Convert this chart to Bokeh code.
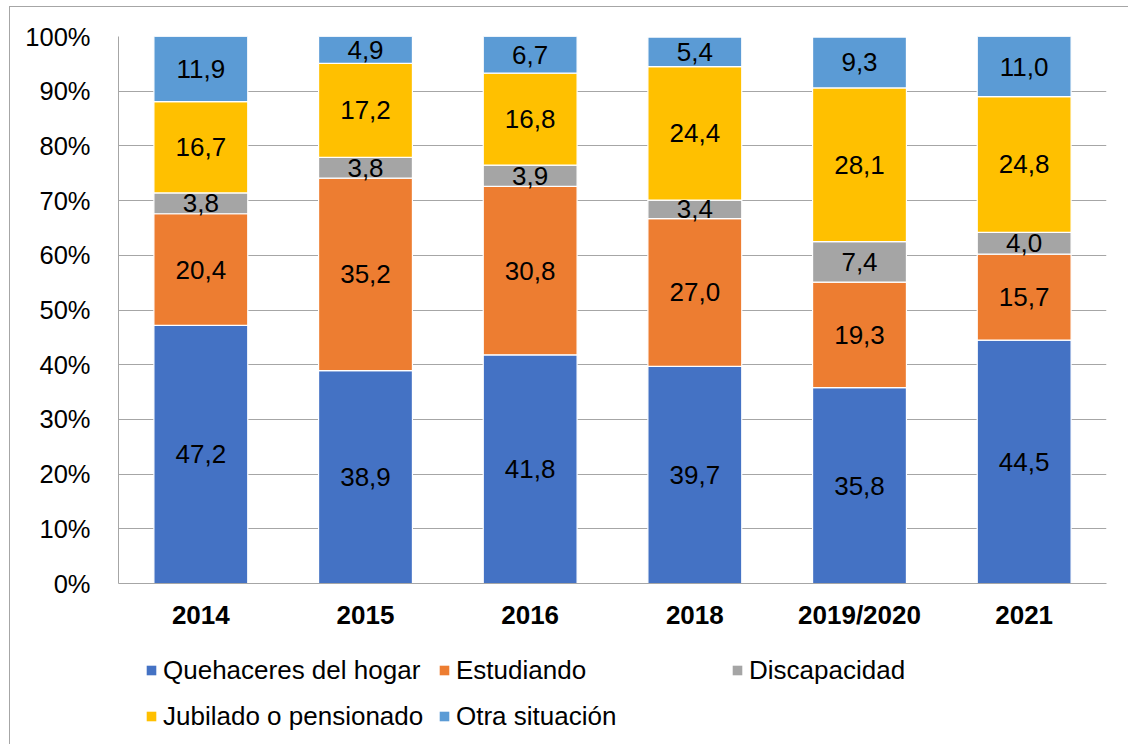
from bokeh.plotting import figure
from bokeh.layouts import column
from bokeh.models import ColumnDataSource, FactorRange, Legend, FixedTicker, Range1d
from bokeh.core.properties import value
from bokeh.embed import file_html
from bokeh.resources import INLINE

years = ["2014", "2015", "2016", "2018", "2019/2020", "2021"]
series = ["Quehaceres del hogar", "Estudiando", "Discapacidad",
          "Jubilado o pensionado", "Otra situación"]
quehaceres = [47.2, 38.9, 41.8, 39.7, 35.8, 44.5]
estudiando = [20.4, 35.2, 30.8, 27.0, 19.3, 15.7]
discapacidad = [3.8, 3.8, 3.9, 3.4, 7.4, 4.0]
jubilado = [16.7, 17.2, 16.8, 24.4, 28.1, 24.8]
otra = [11.9, 4.9, 6.7, 5.4, 9.3, 11.0]
colors = ["#4472C4", "#ED7D31", "#A5A5A5", "#FFC000", "#5B9BD5"]
y_ticks = [0, 10, 20, 30, 40, 50, 60, 70, 80, 90, 100]

keys = ["q", "e", "d", "j", "o"]
vals = [quehaceres, estudiando, discapacidad, jubilado, otra]
data = {"years": years}
for k, v in zip(keys, vals):
    data[k] = v
source = ColumnDataSource(data)

FONT = "Liberation Sans"
FS = "26px"

xr = FactorRange(*years, range_padding=0, group_padding=0)

p = figure(x_range=xr, y_range=(0, 100),
           width=1118, height=633, output_backend="svg",
           toolbar_location=None, tools="",
           min_border_left=108, min_border_right=22,
           min_border_top=29, min_border_bottom=57)
p.outline_line_color = None

r = p.vbar_stack(keys, x="years", width=0.57, source=source,
                 color=colors, line_color="white", line_width=1.2)

# data labels
xs, ys, ts = [], [], []
for i, yr in enumerate(years):
    cum = 0.0
    for v in vals:
        xs.append(yr)
        ys.append(cum + v[i] / 2.0)
        ts.append(f"{v[i]:.1f}".replace(".", ","))
        cum += v[i]
p.text(x=xs, y=ys, text=ts, text_align="center", text_baseline="middle",
       text_font=value(FONT), text_font_size=FS, text_color="black")

# axes
p.yaxis.ticker = FixedTicker(ticks=y_ticks)
p.yaxis.major_label_overrides = {t: f"{t}%" for t in y_ticks}
p.yaxis.major_label_text_font = FONT
p.yaxis.major_label_text_font_size = "25.5px"
p.yaxis.major_label_text_color = "black"
p.yaxis.major_tick_line_color = None
p.yaxis.minor_tick_line_color = None
p.yaxis.axis_line_color = "#A6A6A6"
p.yaxis.major_label_standoff = 22

p.xaxis.major_label_text_font = FONT
p.xaxis.major_label_text_font_size = FS
p.xaxis.major_label_text_font_style = "bold"
p.xaxis.major_label_text_color = "black"
p.xaxis.major_tick_line_color = None
p.xaxis.axis_line_color = "#A6A6A6"
p.xaxis.major_label_standoff = 10

p.xgrid.grid_line_color = None
p.ygrid.grid_line_color = "#A6A6A6"
p.ygrid.grid_line_width = 1

# legend panel below the chart (same data, drawn outside its visible range)
p2 = figure(width=1118, height=104, x_range=xr, y_range=Range1d(500, 600),
            output_backend="svg", toolbar_location=None, tools="",
            x_axis_location=None, y_axis_location=None,
            min_border=0)
p2.outline_line_color = None
p2.grid.grid_line_color = None
r2 = p2.vbar_stack(keys, x="years", width=0.57, source=source,
                   color=colors, line_color=None)

items = [(name, [rend]) for name, rend in zip(series, r2)]
legend = Legend(items=items, location=(27, 5), orientation="horizontal",
                ncols=3, glyph_width=12, glyph_height=12, label_standoff=6,
                label_width=275, label_height=46, spacing=0, padding=0,
                margin=0, border_line_color=None, background_fill_alpha=0,
                label_text_font=FONT, label_text_font_size=FS,
                label_text_color="black")
p2.add_layout(legend, "center")

layout = column(p, p2, spacing=0,
                styles={"margin-left": "9px", "margin-top": "6px",
                        "border-top": "1px solid #A6A6A6",
                        "border-left": "1px solid #A6A6A6"})

open("out.html", "w").write(file_html(layout, INLINE))
